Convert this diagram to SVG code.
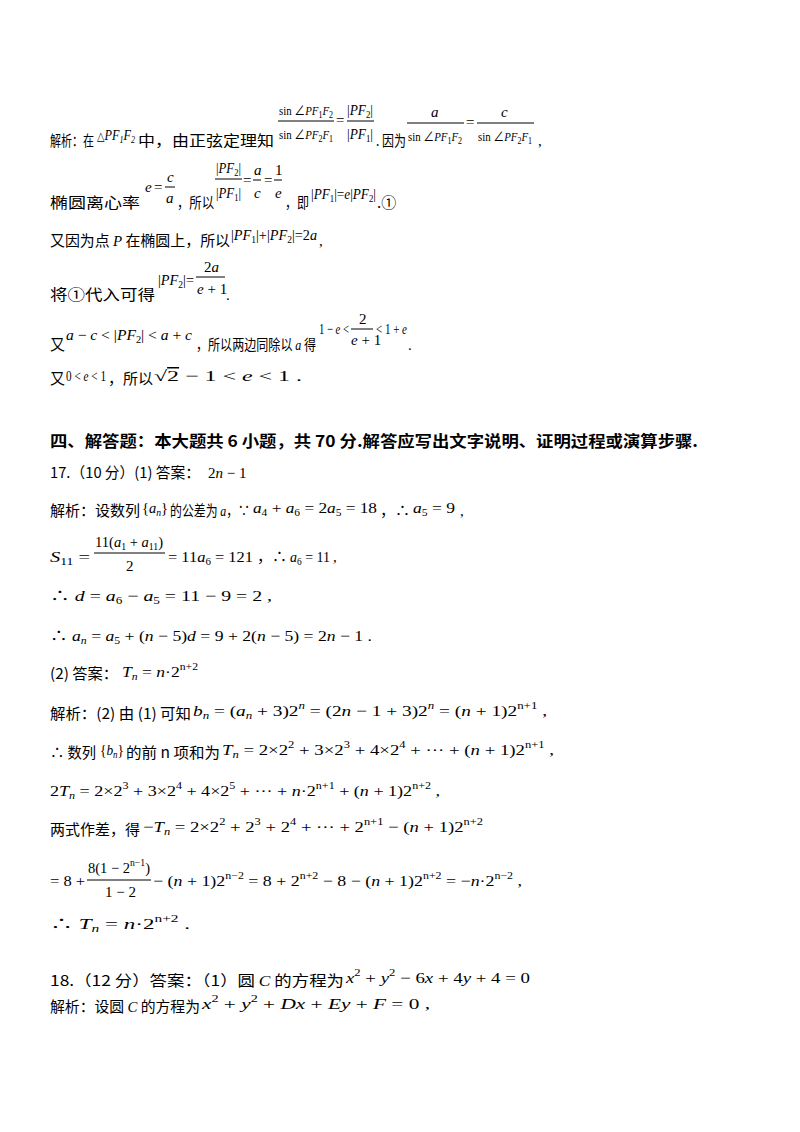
<svg xmlns="http://www.w3.org/2000/svg" width="800" height="1132" viewBox="0 0 800 1132">
<style>
text{font-family:"Liberation Serif","Noto Sans CJK SC",serif;font-size:15px;fill:#000}
.c{font-family:"Noto Sans CJK SC","Liberation Serif",sans-serif;font-size:15px}
.m{font-style:italic}
.s{font-size:10px}
.f{font-size:13.5px}
.h{font-family:"Noto Sans CJK SC",sans-serif;font-weight:bold;font-size:15.5px}
line{stroke:#000;stroke-width:1}
</style>
<rect width="800" height="1132" fill="#fff"/>
<g id="p1">
<text x="50" y="146" class="c" textLength="44" lengthAdjust="spacingAndGlyphs">解析：在</text>
<text x="97" y="140" class="m" textLength="38" lengthAdjust="spacingAndGlyphs"><tspan font-style="normal" font-family="DejaVu Sans" font-size="12">△</tspan>PF<tspan class="s" dy="3">1</tspan><tspan dy="-3">F</tspan><tspan class="s" dy="3">2</tspan></text>
<text x="138" y="146" class="c" textLength="136" lengthAdjust="spacingAndGlyphs">中，由正弦定理知</text>
<text x="279" y="115" class="f" textLength="54" lengthAdjust="spacingAndGlyphs">sin ∠<tspan class="m">PF</tspan><tspan class="s" dy="3">1</tspan><tspan class="m" dy="-3">F</tspan><tspan class="s" dy="3">2</tspan></text>
<line x1="278" y1="121" x2="334" y2="121"/>
<text x="279" y="139" class="f" textLength="54" lengthAdjust="spacingAndGlyphs">sin ∠<tspan class="m">PF</tspan><tspan class="s" dy="3">2</tspan><tspan class="m" dy="-3">F</tspan><tspan class="s" dy="3">1</tspan></text>
<text x="336" y="125">=</text>
<text x="347" y="115" textLength="26" lengthAdjust="spacingAndGlyphs">|<tspan class="m">PF</tspan><tspan class="s" dy="3">2</tspan><tspan dy="-3">|</tspan></text>
<line x1="347" y1="121" x2="374" y2="121"/>
<text x="347" y="139" textLength="26" lengthAdjust="spacingAndGlyphs">|<tspan class="m">PF</tspan><tspan class="s" dy="3">1</tspan><tspan dy="-3">|</tspan></text>
<text x="376" y="146" class="c" textLength="30" lengthAdjust="spacingAndGlyphs">. 因为</text>
<text x="431" y="117" class="m">a</text>
<line x1="407" y1="123" x2="464" y2="123"/>
<text x="408" y="141" class="f" textLength="54" lengthAdjust="spacingAndGlyphs">sin ∠<tspan class="m">PF</tspan><tspan class="s" dy="3">1</tspan><tspan class="m" dy="-3">F</tspan><tspan class="s" dy="3">2</tspan></text>
<text x="466" y="127">=</text>
<text x="501" y="117" class="m">c</text>
<line x1="477" y1="123" x2="534" y2="123"/>
<text x="478" y="141" class="f" textLength="54" lengthAdjust="spacingAndGlyphs">sin ∠<tspan class="m">PF</tspan><tspan class="s" dy="3">2</tspan><tspan class="m" dy="-3">F</tspan><tspan class="s" dy="3">1</tspan></text>
<text x="538" y="146">,</text>
</g>
<g id="p2">
<text x="50" y="208" class="c" textLength="90" lengthAdjust="spacingAndGlyphs">椭圆离心率</text>
<text x="145" y="192" class="m">e</text><text x="154" y="192">=</text>
<text x="167" y="182" class="m">c</text>
<line x1="165" y1="187" x2="175" y2="187"/>
<text x="166" y="203" class="m">a</text>
<text x="177" y="208" class="c" textLength="37" lengthAdjust="spacingAndGlyphs">，所以</text>
<text x="216" y="173" textLength="25" lengthAdjust="spacingAndGlyphs">|<tspan class="m">PF</tspan><tspan class="s" dy="3">2</tspan><tspan dy="-3">|</tspan></text>
<line x1="215" y1="179" x2="242" y2="179"/>
<text x="216" y="198" textLength="25" lengthAdjust="spacingAndGlyphs">|<tspan class="m">PF</tspan><tspan class="s" dy="3">1</tspan><tspan dy="-3">|</tspan></text>
<text x="243" y="185">=</text>
<text x="254" y="175" class="m">a</text>
<line x1="253" y1="180" x2="261" y2="180"/>
<text x="254" y="198" class="m">c</text>
<text x="264" y="185">=</text>
<text x="275" y="175">1</text>
<line x1="274" y1="180" x2="282" y2="180"/>
<text x="275" y="198" class="m">e</text>
<text x="285" y="208" class="c" textLength="24" lengthAdjust="spacingAndGlyphs">，即</text>
<text x="311" y="199" textLength="65" lengthAdjust="spacingAndGlyphs">|<tspan class="m">PF</tspan><tspan class="s" dy="3">1</tspan><tspan dy="-3">|=</tspan><tspan class="m">e</tspan>|<tspan class="m">PF</tspan><tspan class="s" dy="3">2</tspan><tspan dy="-3">|</tspan></text>
<text x="377" y="208" class="c">.①</text>
</g>
<g id="p3">
<text x="50" y="246" class="c" textLength="180" lengthAdjust="spacingAndGlyphs">又因为点 <tspan class="m" font-family="Liberation Serif">P</tspan> 在椭圆上，所以</text>
<text x="231" y="240" textLength="86" lengthAdjust="spacingAndGlyphs">|<tspan class="m">PF</tspan><tspan class="s" dy="3">1</tspan><tspan dy="-3">|+|</tspan><tspan class="m">PF</tspan><tspan class="s" dy="3">2</tspan><tspan dy="-3">|=2</tspan><tspan class="m">a</tspan></text>
<text x="319" y="246">,</text>
</g>
<g id="p4">
<text x="50" y="300" class="c" textLength="105" lengthAdjust="spacingAndGlyphs">将①代入可得</text>
<text x="158" y="285" textLength="36" lengthAdjust="spacingAndGlyphs">|<tspan class="m">PF</tspan><tspan class="s" dy="3">2</tspan><tspan dy="-3">|=</tspan></text>
<text x="204" y="272">2<tspan class="m">a</tspan></text>
<line x1="196" y1="277" x2="225" y2="277"/>
<text x="197" y="294"><tspan class="m">e</tspan> + 1</text>
<text x="226" y="300">.</text>
</g>
<g id="p5">
<text x="50" y="350" class="c">又</text>
<text x="66" y="340" textLength="126" lengthAdjust="spacingAndGlyphs"><tspan class="m">a</tspan> − <tspan class="m">c</tspan> &lt; |<tspan class="m">PF</tspan><tspan class="s" dy="3">2</tspan><tspan dy="-3">| &lt; </tspan><tspan class="m">a</tspan> + <tspan class="m">c</tspan></text>
<text x="196" y="350" class="c" textLength="120" lengthAdjust="spacingAndGlyphs">，所以两边同除以 <tspan class="m" font-family="Liberation Serif">a</tspan> 得</text>
<text x="319" y="334" textLength="30" lengthAdjust="spacingAndGlyphs">1 − <tspan class="m">e</tspan> &lt;</text>
<text x="359" y="324">2</text>
<line x1="351" y1="329" x2="373" y2="329"/>
<text x="351" y="345"><tspan class="m">e</tspan> + 1</text>
<text x="376" y="334" textLength="31" lengthAdjust="spacingAndGlyphs">&lt; 1 + <tspan class="m">e</tspan></text>
<text x="408" y="350">.</text>
</g>
<g id="p6">
<text x="50" y="384" class="c">又</text>
<text x="66" y="381" textLength="40" lengthAdjust="spacingAndGlyphs">0 &lt; <tspan class="m">e</tspan> &lt; 1</text>
<text x="108" y="384" class="c" textLength="45" lengthAdjust="spacingAndGlyphs">，所以</text>
<text x="154" y="381" textLength="148" lengthAdjust="spacingAndGlyphs">√<tspan text-decoration="overline">2</tspan> − 1 &lt; <tspan class="m">e</tspan> &lt; 1 .</text>
</g>
<g id="heading">
<text x="50" y="447" class="h" textLength="648" lengthAdjust="spacingAndGlyphs">四、解答题：本大题共 6 小题，共 70 分.解答应写出文字说明、证明过程或演算步骤.</text>
</g>
<g id="q17">
<text x="50" y="478" class="c" textLength="150" lengthAdjust="spacingAndGlyphs">17.（10 分）(1) 答案：</text>
<text x="208" y="478">2<tspan class="m">n</tspan> − 1</text>
<text x="50" y="516" class="c" textLength="90" lengthAdjust="spacingAndGlyphs">解析：设数列</text>
<text x="142" y="513" textLength="26" lengthAdjust="spacingAndGlyphs">{<tspan class="m">a</tspan><tspan class="s m" dy="3">n</tspan><tspan dy="-3">}</tspan></text>
<text x="170" y="516" class="c" textLength="80" lengthAdjust="spacingAndGlyphs">的公差为 <tspan class="m" font-family="Liberation Serif">a</tspan>，∵</text>
<text x="253" y="513" textLength="124" lengthAdjust="spacingAndGlyphs"><tspan class="m">a</tspan><tspan class="s" dy="3">4</tspan><tspan dy="-3"> + </tspan><tspan class="m">a</tspan><tspan class="s" dy="3">6</tspan><tspan dy="-3"> = 2</tspan><tspan class="m">a</tspan><tspan class="s" dy="3">5</tspan><tspan dy="-3"> = 18</tspan></text>
<text x="380" y="516" class="c" textLength="30" lengthAdjust="spacingAndGlyphs">，∴</text>
<text x="413" y="513" textLength="42" lengthAdjust="spacingAndGlyphs"><tspan class="m">a</tspan><tspan class="s" dy="3">5</tspan><tspan dy="-3"> = 9</tspan></text>
<text x="460" y="516">,</text>
<text x="50" y="562" textLength="40" lengthAdjust="spacingAndGlyphs"><tspan class="m">S</tspan><tspan class="s" dy="3">11</tspan><tspan dy="-3"> =</tspan></text>
<text x="95" y="547" textLength="68" lengthAdjust="spacingAndGlyphs">11(<tspan class="m">a</tspan><tspan class="s" dy="3">1</tspan><tspan dy="-3"> + </tspan><tspan class="m">a</tspan><tspan class="s" dy="3">11</tspan><tspan dy="-3">)</tspan></text>
<line x1="94" y1="553" x2="165" y2="553"/>
<text x="126" y="571">2</text>
<text x="168" y="562" textLength="85" lengthAdjust="spacingAndGlyphs">= 11<tspan class="m">a</tspan><tspan class="s" dy="3">6</tspan><tspan dy="-3"> = 121</tspan></text>
<text x="257" y="562" class="c" textLength="30" lengthAdjust="spacingAndGlyphs">，∴</text>
<text x="290" y="562" textLength="40" lengthAdjust="spacingAndGlyphs"><tspan class="m">a</tspan><tspan class="s" dy="3">6</tspan><tspan dy="-3"> = 11</tspan></text>
<text x="333" y="562">,</text>
<text x="50" y="601" textLength="222" lengthAdjust="spacingAndGlyphs">∴ <tspan class="m">d</tspan> = <tspan class="m">a</tspan><tspan class="s" dy="3">6</tspan><tspan dy="-3"> − </tspan><tspan class="m">a</tspan><tspan class="s" dy="3">5</tspan><tspan dy="-3"> = 11 − 9 = 2 ,</tspan></text>
<text x="50" y="641" textLength="322" lengthAdjust="spacingAndGlyphs">∴ <tspan class="m">a</tspan><tspan class="s m" dy="3">n</tspan><tspan dy="-3"> = </tspan><tspan class="m">a</tspan><tspan class="s" dy="3">5</tspan><tspan dy="-3"> + (</tspan><tspan class="m">n</tspan> − 5)<tspan class="m">d</tspan> = 9 + 2(<tspan class="m">n</tspan> − 5) = 2<tspan class="m">n</tspan> − 1 .</text>
<text x="50" y="679" class="c" textLength="68" lengthAdjust="spacingAndGlyphs">(2) 答案：</text>
<text x="122" y="677" textLength="76" lengthAdjust="spacingAndGlyphs"><tspan class="m">T</tspan><tspan class="s m" dy="3">n</tspan><tspan dy="-3"> = </tspan><tspan class="m">n</tspan>·2<tspan class="s" dy="-7">n+2</tspan></text>
<text x="50" y="719" class="c" textLength="141" lengthAdjust="spacingAndGlyphs">解析：(2) 由 (1) 可知</text>
<text x="193" y="716" textLength="354" lengthAdjust="spacingAndGlyphs"><tspan class="m">b</tspan><tspan class="s m" dy="3">n</tspan><tspan dy="-3"> = (</tspan><tspan class="m">a</tspan><tspan class="s m" dy="3">n</tspan><tspan dy="-3"> + 3)2</tspan><tspan class="s m" dy="-7">n</tspan><tspan dy="7"> = (2</tspan><tspan class="m">n</tspan> − 1 + 3)2<tspan class="s m" dy="-7">n</tspan><tspan dy="7"> = (</tspan><tspan class="m">n</tspan> + 1)2<tspan class="s" dy="-7">n+1</tspan><tspan dy="7"> ,</tspan></text>
<text x="50" y="758" class="c" textLength="46" lengthAdjust="spacingAndGlyphs">∴ 数列</text>
<text x="100" y="755" textLength="24" lengthAdjust="spacingAndGlyphs">{<tspan class="m">b</tspan><tspan class="s m" dy="3">n</tspan><tspan dy="-3">}</tspan></text>
<text x="126" y="758" class="c" textLength="94" lengthAdjust="spacingAndGlyphs">的前 n 项和为</text>
<text x="222" y="755" textLength="332" lengthAdjust="spacingAndGlyphs"><tspan class="m">T</tspan><tspan class="s m" dy="3">n</tspan><tspan dy="-3"> = 2×2</tspan><tspan class="s" dy="-7">2</tspan><tspan dy="7"> + 3×2</tspan><tspan class="s" dy="-7">3</tspan><tspan dy="7"> + 4×2</tspan><tspan class="s" dy="-7">4</tspan><tspan dy="7"> + ··· + (</tspan><tspan class="m">n</tspan> + 1)2<tspan class="s" dy="-7">n+1</tspan><tspan dy="7"> ,</tspan></text>
<text x="50" y="796" textLength="390" lengthAdjust="spacingAndGlyphs">2<tspan class="m">T</tspan><tspan class="s m" dy="3">n</tspan><tspan dy="-3"> = 2×2</tspan><tspan class="s" dy="-7">3</tspan><tspan dy="7"> + 3×2</tspan><tspan class="s" dy="-7">4</tspan><tspan dy="7"> + 4×2</tspan><tspan class="s" dy="-7">5</tspan><tspan dy="7"> + ··· + </tspan><tspan class="m">n</tspan>·2<tspan class="s" dy="-7">n+1</tspan><tspan dy="7"> + (</tspan><tspan class="m">n</tspan> + 1)2<tspan class="s" dy="-7">n+2</tspan><tspan dy="7"> ,</tspan></text>
<text x="50" y="835" class="c" textLength="90" lengthAdjust="spacingAndGlyphs">两式作差，得</text>
<text x="143" y="832" textLength="340" lengthAdjust="spacingAndGlyphs">−<tspan class="m">T</tspan><tspan class="s m" dy="3">n</tspan><tspan dy="-3"> = 2×2</tspan><tspan class="s" dy="-7">2</tspan><tspan dy="7"> + 2</tspan><tspan class="s" dy="-7">3</tspan><tspan dy="7"> + 2</tspan><tspan class="s" dy="-7">4</tspan><tspan dy="7"> + ··· + 2</tspan><tspan class="s" dy="-7">n+1</tspan><tspan dy="7"> − (</tspan><tspan class="m">n</tspan> + 1)2<tspan class="s" dy="-7">n+2</tspan></text>
<text x="50" y="886" textLength="35" lengthAdjust="spacingAndGlyphs">= 8 +</text>
<text x="88" y="873" textLength="62" lengthAdjust="spacingAndGlyphs">8(1 − 2<tspan class="s" dy="-7">n−1</tspan><tspan dy="7">)</tspan></text>
<line x1="87" y1="880" x2="151" y2="880"/>
<text x="105" y="897">1 − 2</text>
<text x="153" y="886" textLength="369" lengthAdjust="spacingAndGlyphs">− (<tspan class="m">n</tspan> + 1)2<tspan class="s" dy="-7">n−2</tspan><tspan dy="7"> = 8 + 2</tspan><tspan class="s" dy="-7">n+2</tspan><tspan dy="7"> − 8 − (</tspan><tspan class="m">n</tspan> + 1)2<tspan class="s" dy="-7">n+2</tspan><tspan dy="7"> = −</tspan><tspan class="m">n</tspan>·2<tspan class="s" dy="-7">n−2</tspan><tspan dy="7"> ,</tspan></text>
<text x="50" y="929" textLength="140" lengthAdjust="spacingAndGlyphs">∴ <tspan class="m">T</tspan><tspan class="s m" dy="3">n</tspan><tspan dy="-3"> = </tspan><tspan class="m">n</tspan>·2<tspan class="s" dy="-7">n+2</tspan><tspan dy="7"> .</tspan></text>
</g>
<g id="q18">
<text x="50" y="986" class="c" textLength="294" lengthAdjust="spacingAndGlyphs">18.（12 分）答案：（1）圆 <tspan class="m" font-family="Liberation Serif">C</tspan> 的方程为</text>
<text x="346" y="983" textLength="184" lengthAdjust="spacingAndGlyphs"><tspan class="m">x</tspan><tspan class="s" dy="-7">2</tspan><tspan dy="7"> + </tspan><tspan class="m">y</tspan><tspan class="s" dy="-7">2</tspan><tspan dy="7"> − 6</tspan><tspan class="m">x</tspan> + 4<tspan class="m">y</tspan> + 4 = 0</text>
<text x="50" y="1012" class="c" textLength="150" lengthAdjust="spacingAndGlyphs">解析：设圆 <tspan class="m" font-family="Liberation Serif">C</tspan> 的方程为</text>
<text x="202" y="1009" textLength="228" lengthAdjust="spacingAndGlyphs"><tspan class="m">x</tspan><tspan class="s" dy="-7">2</tspan><tspan dy="7"> + </tspan><tspan class="m">y</tspan><tspan class="s" dy="-7">2</tspan><tspan dy="7"> + </tspan><tspan class="m">Dx</tspan> + <tspan class="m">Ey</tspan> + <tspan class="m">F</tspan> = 0 ,</text>
</g>
</svg>
